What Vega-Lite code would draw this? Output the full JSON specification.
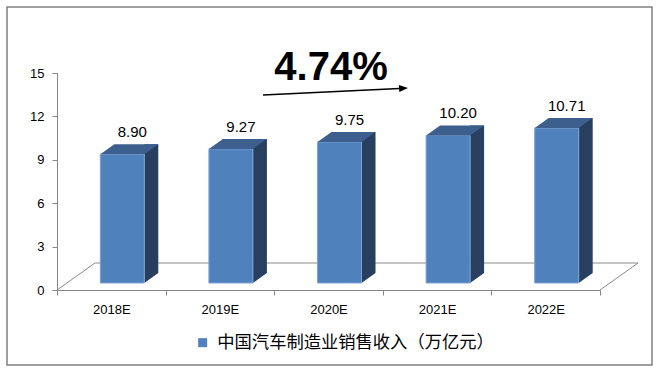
{
  "$schema": "https://vega.github.io/schema/vega-lite/v6.json",
  "width": 543,
  "height": 217,
  "autosize": {"type": "none"},
  "padding": {"left": 57, "top": 73, "right": 60, "bottom": 84},
  "background": "white",
  "config": {"view": {"stroke": null}, "font": "Liberation Sans"},
  "data": {"values": [
    {"year": "2018E", "value": 8.90},
    {"year": "2019E", "value": 9.27},
    {"year": "2020E", "value": 9.75},
    {"year": "2021E", "value": 10.20},
    {"year": "2022E", "value": 10.71}
  ]},
  "encoding": {
    "x": {
      "field": "year", "type": "nominal", "sort": null,
      "scale": {"type": "band", "paddingInner": 0, "paddingOuter": 0},
      "axis": {"title": null, "labelAngle": 0, "tickBand": "extent", "domainColor": "#868686", "tickColor": "#868686", "tickSize": 5, "labelFontSize": 13, "labelColor": "#000000", "labelPadding": 8, "grid": false, "labelFont": "Liberation Sans"}
    },
    "y": {
      "field": "value", "type": "quantitative",
      "scale": {"domain": [0, 15], "nice": false},
      "axis": {"title": null, "values": [0, 3, 6, 9, 12, 15], "domainColor": "#868686", "tickColor": "#868686", "tickSize": 5, "labelFontSize": 13, "labelColor": "#000000", "labelPadding": 8, "grid": false, "labelFont": "Liberation Sans"}
    }
  },
  "layer": [
    {
      "transform": [{"filter": "datum.year == '2018E'"}],
      "mark": {"type": "point", "shape": "M-54.3,0L-16.3,-27L526.7,-27L488.7,0", "size": 4, "filled": false, "stroke": "#8c8c8c", "strokeWidth": 1, "opacity": 1},
      "encoding": {"y": {"datum": 0}}
    },
    {
      "mark": {"type": "bar", "width": 14, "xOffset": 40, "yOffset": -17, "fill": "#283F5F"}
    },
    {
      "mark": {"type": "point", "shape": "M33,-10L33,0L47,-10Z", "size": 4, "filled": true, "fill": "#283F5F", "strokeWidth": 0, "yOffset": -7, "opacity": 1},
      "encoding": {"y": {"datum": 0}}
    },
    {
      "mark": {"type": "bar", "width": 44, "xOffset": 11, "yOffset": -7, "stroke": "#7EA3D3", "strokeWidth": 1},
      "encoding": {
        "color": {
          "datum": "中国汽车制造业销售收入（万亿元）",
          "scale": {"range": ["#4F81BD"]},
          "legend": {"orient": "none", "legendX": 137, "legendY": 261, "title": null, "symbolType": "square", "symbolSize": 81, "labelFontSize": 17.3, "labelFont": "Noto Sans CJK SC", "labelColor": "#000000", "labelLimit": 0, "padding": 0, "labelOffset": 6, "symbolStrokeWidth": 0}
        }
      }
    },
    {
      "mark": {"type": "point", "shape": "M-11,0L33,0L47,-10L3,-10Z", "size": 4, "filled": true, "fill": "#3C5F8E", "strokeWidth": 0, "yOffset": -7, "opacity": 1}
    },
    {
      "mark": {"type": "text", "xOffset": 21, "yOffset": -29, "fontSize": 15, "baseline": "middle", "align": "center", "color": "#000000"},
      "encoding": {"text": {"field": "value", "type": "quantitative", "format": ".2f"}}
    },
    {
      "transform": [{"filter": "datum.year == '2020E'"}],
      "mark": {"type": "text", "text": "4.74%", "xOffset": 2.5, "fontSize": 40, "fontWeight": "bold", "baseline": "middle", "align": "center", "color": "#000000"},
      "encoding": {"y": {"datum": 15.35}}
    },
    {
      "transform": [{"filter": "datum.year == '2020E'"}],
      "mark": {"type": "point", "shape": "M-65.5,22L71,15.4", "size": 4, "filled": false, "stroke": "#000000", "strokeWidth": 1.5, "opacity": 1},
      "encoding": {"y": {"datum": 15}}
    },
    {
      "transform": [{"filter": "datum.year == '2020E'"}],
      "mark": {"type": "point", "shape": "M79.5,15L70.8,18.9L70.4,11.9Z", "size": 4, "filled": true, "fill": "#000000", "strokeWidth": 0, "opacity": 1},
      "encoding": {"y": {"datum": 15}}
    },
    {
      "transform": [{"filter": "datum.year == '2020E'"}],
      "mark": {"type": "point", "shape": "M-321.5,-66H323.5V292H-321.5Z", "size": 4, "filled": false, "stroke": "#808080", "strokeWidth": 1.5, "opacity": 1},
      "encoding": {"y": {"datum": 15}}
    }
  ]
}
